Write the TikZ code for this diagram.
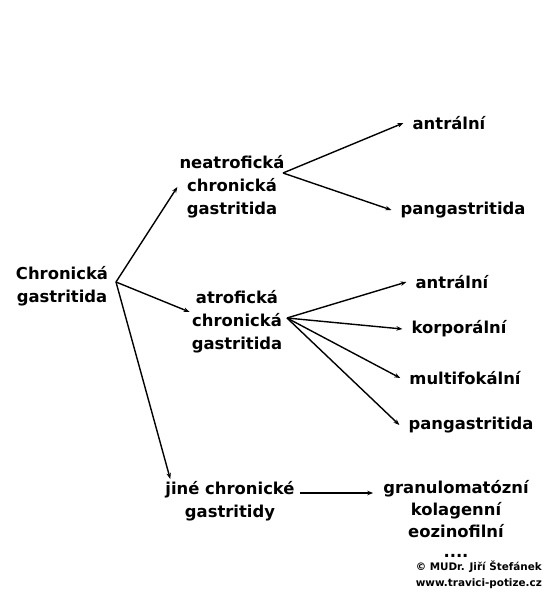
\documentclass[tikz,border=0pt]{standalone}
\usepackage{fontspec}
\setmainfont{DejaVu Sans}
\usetikzlibrary{arrows.meta}
\begin{document}
\begin{tikzpicture}[x=1pt,y=-1pt,
  box/.style={font=\fontsize{16.4}{23}\selectfont\bfseries,align=center,inner sep=2pt},
  leaf/.style={box,inner xsep=9pt},
  arr/.style={line width=1.4pt,-{Stealth[length=6pt,width=4.5pt]}}]
\useasboundingbox (0,0) rectangle (550,600);
\node[box] (chron) at (62,286) {Chronická\\gastritida};
\node[box] (neatr) at (232,187) {neatrofická\\chronická\\gastritida};
\node[box] (atrof) at (237,322) {atrofická\\chronická\\gastritida};
\node[box] (jine) at (230,501) {jiné chronické\\gastritidy};
\node[leaf] (na) at (449,123) {antrální};
\node[leaf] (np) at (463,210) {pangastritida};
\node[leaf] (aa) at (452,282) {antrální};
\node[leaf] (ak) at (459,329) {korporální};
\node[leaf] (am) at (465,378) {multifokální};
\node[leaf] (ap) at (471,425) {pangastritida};
\node[box,inner sep=0pt,font=\fontsize{16.4}{22}\selectfont\bfseries] (gran) at (456,509) {granulomatózní\\kolagenní\\eozinofilní};
\node[box,inner sep=0pt] (dots) at (456,556) {....};
\node[anchor=north east,align=right,inner sep=0pt,
  font=\fontsize{10.4}{16}\selectfont\bfseries] (copy) at (542,561) {© MUDr. Jiří Štefánek\\www.travici-potize.cz};
% forks
\coordinate (cfork) at (116,282);
\coordinate (nfork) at (283,173);
\coordinate (afork) at (287,318);
\draw[arr] (cfork) -- (neatr.west);
\draw[arr] (cfork) -- ([yshift=10pt]atrof.west);
\draw[arr] (cfork) -- ([xshift=7pt]jine.north west);
\draw[arr] (nfork) -- (na.west);
\draw[arr] (nfork) -- (np.west);
\foreach \n in {aa,ak,am,ap}
  \draw[arr] (afork) -- (\n.west);
\draw[arr,shorten <=3pt,shorten >=10pt] ([yshift=8pt]jine.east) -- ([yshift=8pt]jine.east -| gran.west);
\end{tikzpicture}
\end{document}
